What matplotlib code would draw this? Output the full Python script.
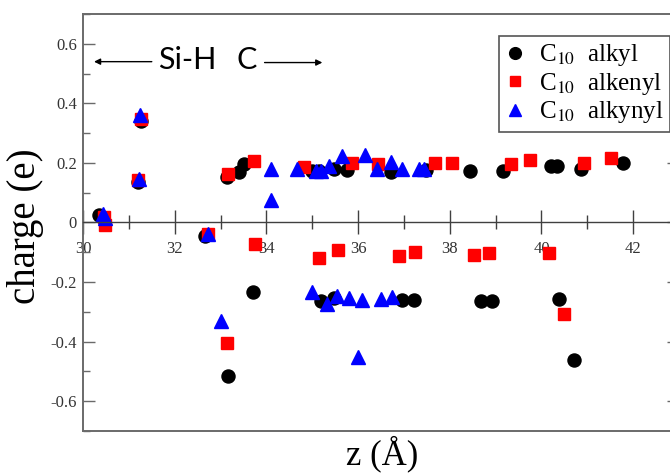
import matplotlib
matplotlib.use("Agg")
import matplotlib.pyplot as plt
from matplotlib.ticker import MultipleLocator, FuncFormatter

# Partial charges along the surface normal for three C10 chains on Si-H
alkyl_z = [30.35, 31.20, 31.26, 32.65, 33.13, 33.17, 33.41, 33.52, 33.70,
           35.00, 35.15, 35.20, 35.48, 35.48, 35.76, 36.72, 36.96, 37.22,
           37.48, 38.43, 38.67, 38.91, 39.17, 40.20, 40.33, 40.39, 40.70,
           40.87, 41.78]
alkyl_q = [0.025, 0.135, 0.340, -0.045, 0.152, -0.515, 0.169, 0.195, -0.234,
           0.172, 0.172, -0.263, -0.254, 0.178, 0.175, 0.171, -0.261, -0.261,
           0.175, 0.172, -0.263, -0.263, 0.172, 0.190, 0.190, -0.257, -0.463,
           0.180, 0.200]

alkenyl_z = [30.45, 30.48, 31.20, 31.26, 32.72, 33.13, 33.17, 33.72, 33.76,
             34.83, 35.15, 35.57, 35.87, 36.43, 36.89, 37.24, 37.67, 38.04,
             38.52, 38.85, 39.33, 39.76, 40.17, 40.50, 40.93, 41.52]
alkenyl_q = [0.020, -0.008, 0.142, 0.349, -0.040, -0.405, 0.162, 0.205, -0.073,
             0.185, -0.120, -0.093, 0.200, 0.195, -0.112, -0.100, 0.200, 0.200,
             -0.110, -0.104, 0.195, 0.209, -0.104, -0.307, 0.200, 0.218]

alkynyl_z = [30.43, 30.47, 31.22, 31.24, 32.72, 33.02, 34.11, 34.11, 34.67,
             35.00, 35.08, 35.20, 35.33, 35.37, 35.54, 35.65, 35.80, 36.00,
             36.09, 36.15, 36.41, 36.50, 36.72, 36.74, 36.96, 37.33, 37.43]
alkynyl_q = [0.030, 0.015, 0.145, 0.362, -0.038, -0.330, 0.180, 0.075, 0.179,
             -0.234, 0.172, 0.172, -0.273, 0.190, -0.247, 0.222, -0.254, -0.452,
             -0.260, 0.228, 0.180, -0.258, 0.202, -0.251, 0.180, 0.180, 0.180]

series_labels = [r"C$_{10}$  alkyl", r"C$_{10}$  alkenyl", r"C$_{10}$  alkynyl"]

plt.rcParams["font.family"] = ["Liberation Serif", "DejaVu Serif"]
plt.rcParams["mathtext.fontset"] = "stix"
plt.rcParams["axes.unicode_minus"] = False

fig = plt.figure(figsize=(6.7, 4.73), dpi=100)
ax = fig.add_axes([0.1239, 0.0888, 0.8896, 0.8816])

ax.plot(alkyl_z, alkyl_q, linestyle="none", marker="o", ms=9.4,
        color="black", mec="black", label=series_labels[0])
ax.plot(alkenyl_z, alkenyl_q, linestyle="none", marker="s", ms=8.4,
        color="#ff0000", mec="#ff0000", label=series_labels[1])
ax.plot(alkynyl_z, alkynyl_q, linestyle="none", marker="^", ms=10,
        color="#0000ff", mec="#0000ff", label=series_labels[2])

ax.set_xlim(30, 43)
ax.set_ylim(-0.7, 0.7)

spine_col = "#6a6a6a"
for name in ("left", "right", "top"):
    ax.spines[name].set_color(spine_col)
    ax.spines[name].set_linewidth(1.4)
# x axis runs along zero charge; the frame bottom is drawn separately
ax.spines["bottom"].set_position(("data", 0))
ax.spines["bottom"].set_color("#404040")
ax.spines["bottom"].set_linewidth(1.0)
ax.plot([0, 1], [0, 0], transform=ax.transAxes, color=spine_col, lw=1.4,
        clip_on=False, zorder=5)

ax.xaxis.set_major_locator(MultipleLocator(2))
ax.xaxis.set_minor_locator(MultipleLocator(1))
ax.yaxis.set_major_locator(MultipleLocator(0.2))
ax.yaxis.set_minor_locator(MultipleLocator(0.1))
ax.yaxis.set_major_formatter(FuncFormatter(lambda v, p: "0" if abs(v) < 1e-9 else f"{v:.1f}"))
ax.xaxis.set_major_formatter(FuncFormatter(lambda v, p: f"{v:.0f}"))

ax.tick_params(axis="x", which="major", direction="inout", length=17, width=1,
               color="#404040", labelsize=12, labelcolor="#333333", pad=5)
ax.tick_params(axis="x", which="minor", direction="inout", length=10, width=1,
               color="#404040")
ax.tick_params(axis="y", which="major", direction="in", length=8.6, width=1,
               left=True, right=True, color=spine_col, labelsize=12,
               labelcolor="#333333", pad=4.5)
ax.tick_params(axis="y", which="minor", direction="in", length=5, width=1,
               left=True, right=True, color=spine_col)

ax.set_ylabel("charge (e)", fontsize=28)
ax.set_xlabel("z (Å)", fontsize=25)
ax.xaxis.set_label_coords(0.502, -0.012)
ax.yaxis.set_label_coords(-0.066, 0.49)

# Region markers: substrate to the left, carbon chain to the right
ax.annotate("", xy=(30.24, 0.54), xytext=(31.5, 0.54),
            arrowprops=dict(arrowstyle="-|>", color="black", lw=1.0,
                            mutation_scale=9, shrinkA=0, shrinkB=0))
ax.annotate("", xy=(35.22, 0.537), xytext=(33.96, 0.537),
            arrowprops=dict(arrowstyle="-|>", color="black", lw=1.0,
                            mutation_scale=9, shrinkA=0, shrinkB=0))
ax.text(32.28, 0.545, "Si-H", family=["Lato", "DejaVu Sans"], fontsize=22,
        ha="center", va="center")
ax.text(33.58, 0.545, "C", family=["Lato", "DejaVu Sans"], fontsize=22,
        ha="center", va="center")

leg = ax.legend(loc="upper right", bbox_to_anchor=(0.985, 0.947),
                borderaxespad=0, fancybox=False, framealpha=1,
                edgecolor="#555555", fontsize=18, handlelength=0.8,
                handletextpad=0.55, borderpad=0.25, labelspacing=0.1,
                markerscale=0.9)
leg.get_frame().set_linewidth(1.2)

fig.savefig("out.png", dpi=100)
